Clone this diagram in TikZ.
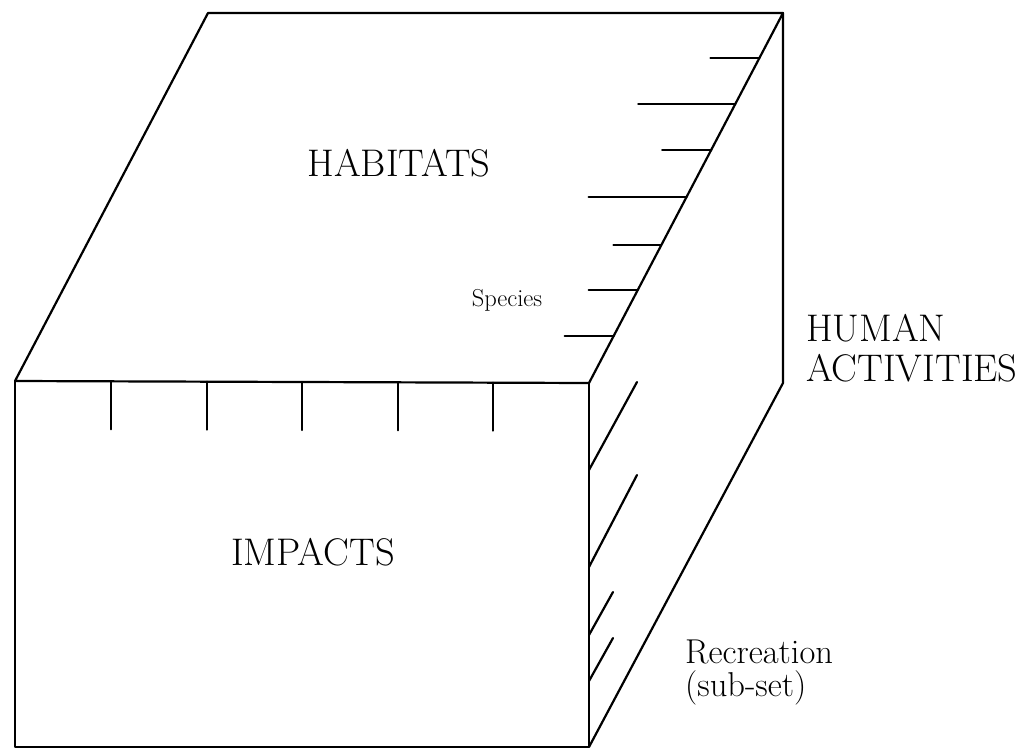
\documentclass[tikz,border=0pt]{standalone}
\usepackage{fontspec}
\usetikzlibrary{calc}
\begin{document}
\begin{tikzpicture}[x=1pt,y=-1pt,
  edge/.style={line width=2.2pt, line cap=round, line join=round},
  tickline/.style={line width=2.2pt, line cap=round},
  capslabel/.style={inner sep=0pt, font=\fontsize{38.5}{40}\selectfont},
  smalllabel/.style={inner sep=0pt, font=\fontsize{24.5}{26}\selectfont},
  reclabel/.style={inner sep=0pt, font=\fontsize{34.5}{33}\selectfont}]
\useasboundingbox (0,0) rectangle (1030,752);
% corners
\coordinate (TL) at (208,13);
\coordinate (TR) at (783,13);
\coordinate (FTL) at (15,381);
\coordinate (FTR) at (589,383);
\coordinate (RB) at (783,383);
\coordinate (FBR) at (589,747);
\coordinate (FBL) at (15,747);
% box
\draw[edge] (FTL) -- (TL) -- (TR) -- (FTR) -- cycle;
\draw[edge] (TR) -- (RB) -- (FBR);
\draw[edge] (FTR) -- (FBR) -- (FBL) -- (FTL);
% impacts ticks (front face)
\foreach \x in {111,207,302,398,493}
  \draw[tickline] ($(FTL)!{(\x-15)/574}!(FTR)$) -- ++(0,48);
% species ticks (top face)
\foreach \t/\l in {0.1216/49, 0.246/97, 0.370/49, 0.497/98, 0.627/48, 0.749/49, 0.873/49}
  \draw[tickline] ($(TR)!\t!(FTR)$) -- ++(-\l,0);
% recreation ticks (side face)
\foreach \t/\dx/\dy in {0.2390/48/88, 0.5055/48/92, 0.6923/24/43, 0.8187/24/43}
  \draw[tickline] ($(FTR)!\t!(FBR)$) -- ++(\dx,-\dy);
% labels
\node[capslabel] (habitats) at (399,163) {HABITATS};
\node[capslabel] (impacts) at (313,552) {IMPACTS};
\node[smalllabel] (species) at (507,300) {Species};
\node[capslabel, anchor=west, align=left] (human) at (806,348) {HUMAN\\ACTIVITIES};
\node[reclabel, anchor=west, align=left] (rec) at (685,673) {Recreation\\(sub-set)};
\end{tikzpicture}
\end{document}
